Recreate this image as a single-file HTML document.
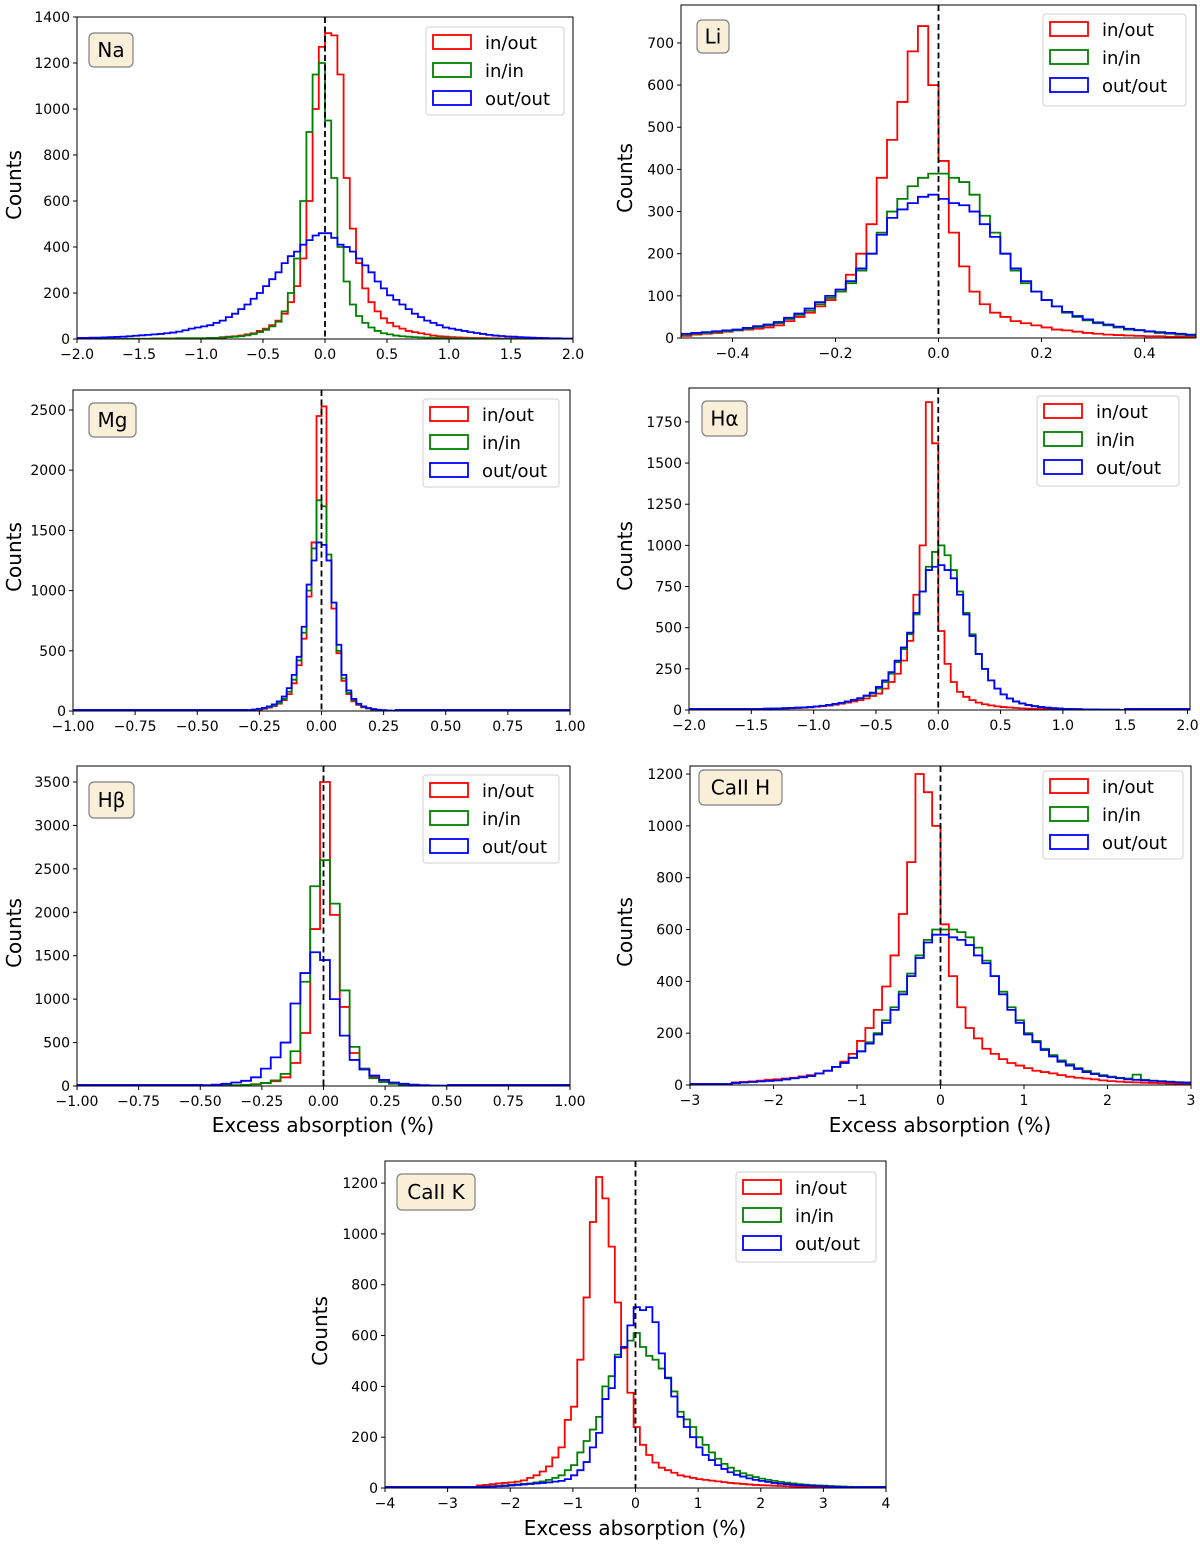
<!DOCTYPE html>
<html><head><meta charset="utf-8">
<style>
html,body{margin:0;padding:0;background:#fff;}
svg text{font-family:"DejaVu Sans","Liberation Sans",sans-serif;fill:#000;}
</style></head>
<body>
<svg id="fig" xmlns="http://www.w3.org/2000/svg" width="1200" height="1543" viewBox="0 0 1200 1543"></svg>
<script>
// ---------------- DATA ----------------
const seriesNames = ["in/out","in/in","out/out"];
const seriesColors = ["#ff0000","#008000","#0000ff"];

const naStart = -2, naWidth = 0.05;
const naRed = [0,0,0,0,0,0,0,0,1,1,1,1,2,2,2,2,3,3,3,3, 3,5,5,8,10,12,15,20,25,35, 45,60,80,110,160,230,350,600,1000,1270, 1330,1320,1150,700,480,330,220,160,120,90, 70,55,45,35,30,25,20,15,12,10, 8,7,6,5,4,4,3,3,2,2,2,1,1,1,1,0,0,0,0,0];
const naGreen = [0,0,0,0,0,0,0,0,1,1,1,1,2,2,2,2,3,3,3,3, 3,4,5,6,8,10,12,16,22,30, 40,55,75,120,200,350,600,900,1150,1200, 950,700,400,250,150,100,70,50,35,25, 20,15,12,10,8,7,6,5,4,3, 3,2,2,2,1,1,1,1,1,1,0,0,0,0,0,0,0,0,0,0];
const naBlue = [5,5,6,6,7,8,9,10,12,14,16,18,20,22,25,28,32,38,45,50, 55,60,70,80,95,110,130,150,175,200, 230,260,290,330,360,380,410,430,450,460, 460,440,410,400,380,350,320,290,250,220, 190,170,150,130,110,95,80,70,60,50, 45,40,35,30,26,22,18,15,13,11,10,8,7,6,5,4,3,3,2,2];

const liStart = -0.5, liWidth = 0.02;
const liRed = [5,8,10,12,15,18,20,22,25,30, 40,50,60,75,90,110,150,200,270,380, 470,560,680,740,600,420,250,170,110,80, 60,50,40,35,30,25,20,18,15,12, 10,8,7,6,5,4,4,3,3,2];
const liGreen = [8,10,12,14,16,18,22,26,30,35, 45,55,65,80,95,110,130,160,200,250, 300,330,360,380,390, 390,380,370,340,290, 250,200,160,130,110, 90,75,60,50,42, 35,30,25,20,18, 15,12,10,8,6];
const liBlue = [10,12,14,16,18,20,24,28,32,38, 48,58,70,85,100,115,135,165,200,245, 285,305,320,335,340, 330,320,315,300,270, 240,200,165,135,110, 90,75,62,52,44, 37,32,27,22,19, 16,14,12,10,8];

const mgStart = -0.3, mgWidth = 0.02;
const mgRed = [5,8,12,18,28, 40,60,90,140,230, 380,600,950,1400,2450, 2530,1250,850,480,250, 140,80,50,30,20, 12,8,5,3,2];
const mgGreen = [6,10,15,22,32, 45,65,100,160,260, 420,650,1000,1350,1750, 1700,1300,900,500,270, 150,90,55,35,22, 14,9,6,4,2];
const mgBlue = [8,12,18,26,38, 55,80,120,190,300, 450,700,1050,1250,1400, 1380,1250,900,550,300, 170,100,60,38,25, 16,10,7,4,3];

const haStart = -1.5, haWidth = 0.05;
const haRed = [5,6,7,8,9,10,11,12,14,16, 20,23,27,32,38,45,52,60,70,85, 100,130,170,220,300,420,700,1000,1870,1620, 480,280,170,110,80,60,45,35,28,22, 18,15,12,10,8,7,6,5,4,4, 3,3,2,2,2,1,1,1,1,1];
const haGreen = [6,7,8,9,10,11,12,14,16,18, 22,25,30,36,42,50,60,70,85,100, 130,170,220,290,370,460,580,720,870,960, 1000,940,850,720,590,460,340,250,180,130, 95,70,52,40,30,23,18,14,11,9, 7,6,5,4,3,3,2,2,2,1];
const haBlue = [6,7,8,9,10,11,12,14,16,18, 22,26,31,37,44,52,62,72,88,105, 140,180,230,300,380,470,590,720,850,870, 880,850,800,700,580,450,340,250,180,130, 95,70,52,40,30,23,18,14,11,9, 7,6,5,4,3,3,2,2,2,1];

const hbStart = -0.494, hbWidth = 0.04;
const hbRed = [2,3,5,8,12,20,35,55, 100,265,610,1807,3500,1970,910,380,200,100,50,30,15,10,5,3,2];
const hbGreen = [2,3,5,8,12,20,35,65, 140,400,1200,2300,2600,2100,1100,450,200,90,45,25,15,10,6,4,2];
const hbBlue = [10,15,25,40,60,100,200,330, 500,950,1300,1540,1450,1000,580,300,190,120,70,40,25,15,10,6,4];

const chStart = -2.5, chWidth = 0.1;
const chRed = [10,12,14,17,20, 22,25,28,33,38, 45,55,70,90,120, 170,220,290,380,500, 660,860,1200,1130,1000, 620,420,300,220,180, 140,120,100,85,75, 65,55,50,45,38, 32,28,25,22,18, 15,13,11,10,9, 8,7,6,5,5];
const chGreen = [8,10,12,14,16, 18,22,26,30,35, 45,55,70,85,105, 130,165,200,250,300, 360,430,500,560,600, 600,600,590,570,530, 480,420,360,300,250, 200,170,140,115,95, 80,65,55,45,38, 32,28,25,40,20, 17,15,13,11,10];
const chBlue = [8,10,12,14,16, 18,22,26,30,35, 45,55,70,85,105, 130,160,195,240,290, 350,420,490,550,580, 580,570,560,540,500, 470,420,350,290,240, 195,165,135,110,90, 75,62,50,42,35, 30,26,22,20,18, 16,14,12,10,9];

const ckStart = -2.53, ckWidth = 0.1;
const ckRed = [10,12,15,18,20,22,25,30,40,50,65,85,120, 160,268,320,505,750,1047,1224,1140,950,730,550,375,240,170,130,100,80, 70,60,50,45,40,35,32,29,26,23,20,18,16,14,12,11,10,9,8,7,6,5,5,4,4,3,3,2,2,2];
const ckGreen = [5,6,7,8,10,12,14,16,18,22,26,32, 40,50,70,90,140,185,230,280,400,440,525,555,580, 610,555,520,505,470,435,380,300,270,240,200,170,140,115,95,80,68,58,50, 43,37,32,28,24,21,18,15,13,11,10,9,8,7,6,5];
const ckBlue = [4,5,6,7,8,10,12,14,16,18,20,22, 25,28,35,50,70,102,160,217,350,393,515,555,640, 712,700,712,653,530,432,360,280,240,200,160,130,110,90,75,62,52,45,38, 32,28,24,20,17,15,13,11,10,9,8,7,6,5,4,3];

const naXTicks = [-2,-1.5,-1,-0.5,0,0.5,1,1.5,2];
const naYTicks = [0,200,400,600,800,1000,1200,1400];
const liXTicks = [-0.4,-0.2,0,0.2,0.4];
const liYTicks = [0,100,200,300,400,500,600,700];
const mgXTicks = [-1,-0.75,-0.5,-0.25,0,0.25,0.5,0.75,1];
const mgYTicks = [0,500,1000,1500,2000,2500];
const haXTicks = [-2,-1.5,-1,-0.5,0,0.5,1,1.5,2];
const haYTicks = [0,250,500,750,1000,1250,1500,1750];
const hbXTicks = [-1,-0.75,-0.5,-0.25,0,0.25,0.5,0.75,1];
const hbYTicks = [0,500,1000,1500,2000,2500,3000,3500];
const chXTicks = [-3,-2,-1,0,1,2,3];
const chYTicks = [0,200,400,600,800,1000,1200];
const ckXTicks = [-4,-3,-2,-1,0,1,2,3,4];
const ckYTicks = [0,200,400,600,800,1000,1200];

// ---------------- LAYOUT ----------------
const NS = "http://www.w3.org/2000/svg";
const fig = document.getElementById("fig");
function mk(tag, attrs, parent){
  const e = document.createElementNS(NS, tag);
  for (const k in attrs) e.setAttribute(k, attrs[k]);
  (parent||fig).appendChild(e);
  return e;
}
function fmt(v, dec){ const s = Math.abs(v).toFixed(dec); return (v<0?"\u2212":"")+s; }

const panels = [
 {id:"na", label:"Na", box:[77,17,573,339], xr:[-2,2], yTop:1400, start:naStart, w:naWidth, data:[naRed,naGreen,naBlue], xt:naXTicks, xd:1, yt:naYTicks, tag:[89,33,44,34], leg:[426,27,138,88], ylab:[14,178], xlab:null},
 {id:"li", label:"Li", box:[681,5,1196,338], xr:[-0.5,0.5], yTop:790, start:liStart, w:liWidth, data:[liRed,liGreen,liBlue], xt:liXTicks, xd:1, yt:liYTicks, tag:[697,20,32,33], leg:[1043,14,143,92], ylab:[625,171], xlab:null},
 {id:"mg", label:"Mg", box:[73,390,570,711], xr:[-1,1], yTop:2666, start:mgStart, w:mgWidth, data:[mgRed,mgGreen,mgBlue], xt:mgXTicks, xd:2, yt:mgYTicks, tag:[89,403,47,34], leg:[423,399,136,88], ylab:[14,550], xlab:null},
 {id:"ha", label:"H\u03b1", box:[689,388,1190,710], xr:[-2,2.02], yTop:1956, start:haStart, w:haWidth, data:[haRed,haGreen,haBlue], xt:haXTicks, xd:1, yt:haYTicks, tag:[702,401,45,35], leg:[1037,396,142,90], ylab:[625,549], xlab:null},
 {id:"hb", label:"H\u03b2", box:[77,766,570,1086], xr:[-1,1], yTop:3684, start:hbStart, w:hbWidth, data:[hbRed,hbGreen,hbBlue], xt:hbXTicks, xd:2, yt:hbYTicks, tag:[89,782,45,36], leg:[423,775,136,88], ylab:[14,926], xlab:[323,1132]},
 {id:"cah", label:"CaII H", box:[690,766,1191,1085], xr:[-3,3], yTop:1231, start:chStart, w:chWidth, data:[chRed,chGreen,chBlue], xt:chXTicks, xd:0, yt:chYTicks, tag:[699,770,83,35], leg:[1043,771,140,88], ylab:[625,925], xlab:[940,1132]},
 {id:"cak", label:"CaII K", box:[385,1161,886,1488], xr:[-4,4], yTop:1287, start:ckStart, w:ckWidth, data:[ckRed,ckGreen,ckBlue], xt:ckXTicks, xd:0, yt:ckYTicks, tag:[397,1174,78,36], leg:[736,1172,140,90], ylab:[320,1324], xlab:[635,1535]}
];

panels.forEach(p => {
  const [L,T,R,B] = p.box;
  const g = mk("g", {});
  
  
  const X = v => L + (v - p.xr[0]) / (p.xr[1]-p.xr[0]) * (R-L);
  const Y = v => B - v / p.yTop * (B-T);
  const cp = mk("clipPath", {id:"clip-"+p.id}, g);
  mk("rect", {x:L, y:T-2, width:R-L, height:B-T+2}, cp);

  // histograms
  p.data.forEach((arr, si) => {
    let d = "M" + X(p.xr[0]).toFixed(2) + "," + (Y(0)-1).toFixed(2) + " L" + X(p.start).toFixed(2) + "," + (Y(0)-1).toFixed(2);
    arr.forEach((c, i) => {
      const x0 = p.start + i*p.w, x1 = x0 + p.w;
      d += " L" + X(x0).toFixed(2) + "," + Y(c).toFixed(2) + " L" + X(x1).toFixed(2) + "," + Y(c).toFixed(2);
    });
    d += " L" + X(p.start + arr.length*p.w).toFixed(2) + "," + (Y(0)-1).toFixed(2) + " L" + X(p.xr[1]).toFixed(2) + "," + (Y(0)-1).toFixed(2);
    const path = mk("path", {d:d, fill:"none", stroke:seriesColors[si], "stroke-width":1.8, "clip-path":"url(#clip-"+p.id+")"}, g);
    
    
  });

  // zero line
  const zl = mk("line", {x1:X(0), x2:X(0), y1:T, y2:B, stroke:"#000", "stroke-width":1.8, "stroke-dasharray":"6,3.5"}, g);
  
  

  // frame
  const fr = mk("rect", {x:L, y:T, width:R-L, height:B-T, fill:"none", stroke:"#000", "stroke-width":1}, g);
  
  

  // x ticks
  p.xt.forEach(v => {
    const x = X(v);
    mk("line", {x1:x, x2:x, y1:B, y2:B+4, stroke:"#000", "stroke-width":1}, g);
    const t = mk("text", {x:x, y:B+20, "text-anchor":"middle", "font-size":14}, g);
    t.textContent = fmt(v, p.xd);
    
    
  });
  // y ticks
  p.yt.forEach(v => {
    const y = Y(v);
    mk("line", {x1:L-4, x2:L, y1:y, y2:y, stroke:"#000", "stroke-width":1}, g);
    const t = mk("text", {x:L-7, y:y+5, "text-anchor":"end", "font-size":14}, g);
    t.textContent = String(v);
    
    
  });
  // y label
  const yl = mk("text", {x:p.ylab[0], y:p.ylab[1], "text-anchor":"middle", "font-size":20, transform:"rotate(-90 "+(p.ylab[0]+7)+" "+p.ylab[1]+")"}, g);
  yl.textContent = "Counts";
  
  
  if (p.xlab) {
    const xl = mk("text", {x:p.xlab[0], y:p.xlab[1], "text-anchor":"middle", "font-size":20}, g);
    xl.textContent = "Excess absorption (%)";
    
    
  }

  // tag box
  const [tx,ty,tw,th] = p.tag;
  const tb = mk("rect", {x:tx, y:ty, width:tw, height:th, rx:5, ry:5, fill:"#faefd9", stroke:"#808080", "stroke-width":1.2}, g);
  
  
  const tt = mk("text", {x:tx+tw/2, y:ty+th/2+7, "text-anchor":"middle", "font-size":20}, g);
  tt.textContent = p.label;
  
  

  // legend
  const [lx,ly,lw,lh] = p.leg;
  const lg = mk("g", {}, g);
  
  
  mk("rect", {x:lx, y:ly, width:lw, height:lh, rx:3, ry:3, fill:"#fff", stroke:"#d0d0d0", "stroke-width":1}, lg);
  seriesNames.forEach((nm, si) => {
    const cy = ly + 15 + si*28;
    const e = mk("g", {}, lg);
    
    
    mk("rect", {x:lx+7, y:cy-7, width:38, height:14, fill:"none", stroke:seriesColors[si], "stroke-width":1.8}, e);
    const lt = mk("text", {x:lx+59, y:cy+7, "font-size":18}, e);
    lt.textContent = nm;
  });
});
</script>
</body></html>
